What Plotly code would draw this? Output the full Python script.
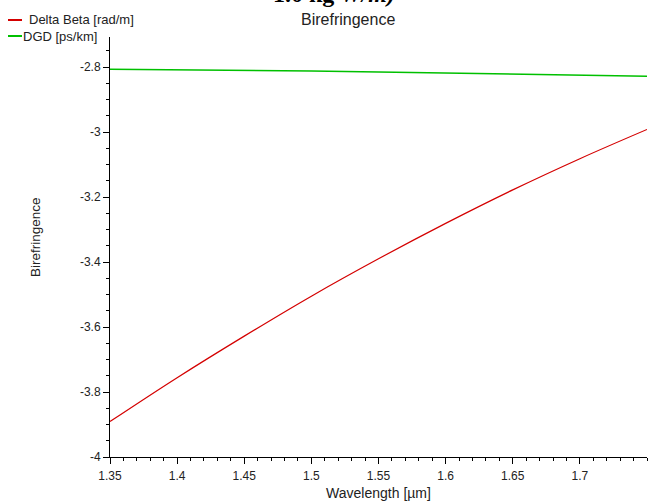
import plotly.graph_objects as go

wavelength = [1.35, 1.40, 1.45, 1.50, 1.55, 1.60, 1.65, 1.70, 1.75]
delta_beta = [-3.891, -3.756, -3.628, -3.505, -3.390, -3.281, -3.178, -3.082, -2.992]
dgd = [-2.807, -2.808, -2.810, -2.812, -2.815, -2.818, -2.821, -2.824, -2.828]

x_ticks = [1.35, 1.4, 1.45, 1.5, 1.55, 1.6, 1.65, 1.7]
x_ticklabels = ["1.35", "1.4", "1.45", "1.5", "1.55", "1.6", "1.65", "1.7"]
y_ticks = [-4, -3.8, -3.6, -3.4, -3.2, -3, -2.8]
y_ticklabels = ["-4", "-3.8", "-3.6", "-3.4", "-3.2", "-3", "-2.8"]

series_names = ["Delta Beta [rad/m]", "DGD [ps/km]"]
series_colors = ["#d40000", "#00c000"]

W, H = 654, 504
L, R, T, B = 110, 7, 37, 47
pw, ph = W - L - R, H - T - B


def px2paper(px, py):
    return (px - L) / pw, (H - B - py) / ph


FONT = "Liberation Sans, Arial, sans-serif"

fig = go.Figure()
fig.add_trace(go.Scatter(x=wavelength, y=delta_beta, mode="lines", name=series_names[0],
                         line=dict(color=series_colors[0], width=1.2, shape="spline", smoothing=1.0),
                         showlegend=False))
fig.add_trace(go.Scatter(x=wavelength, y=dgd, mode="lines", name=series_names[1],
                         line=dict(color=series_colors[1], width=1.5), showlegend=False))

axis_common = dict(showgrid=False, zeroline=False, showline=True, linecolor="#000",
                   linewidth=1, ticks="outside", ticklen=6, tickcolor="#000",
                   tickfont=dict(family=FONT, size=12, color="#222"))

fig.update_xaxes(range=[1.35, 1.75], tickmode="array", tickvals=x_ticks, ticktext=x_ticklabels,
                 minor=dict(tickmode="linear", tick0=1.35, dtick=0.01, ticks="outside",
                            ticklen=3, tickcolor="#000"),
                 ticklabelstandoff=2,
                 title=dict(text="Wavelength [µm]", font=dict(family=FONT, size=14, color="#222"),
                            standoff=5),
                 **axis_common)
fig.update_yaxes(range=[-4, -2.7075], tickmode="array", tickvals=y_ticks, ticktext=y_ticklabels,
                 minor=dict(tickmode="linear", tick0=-4, dtick=0.05, ticks="outside",
                            ticklen=3, tickcolor="#000"),
                 **axis_common)

annotations = []
shapes = []
# manual legend
for i, (name, color) in enumerate(zip(series_names, series_colors)):
    ly = 20 + 16 * i
    x0, y0 = px2paper(8, ly)
    x1, _ = px2paper(22, ly)
    shapes.append(dict(type="line", xref="paper", yref="paper", x0=x0, x1=x1, y0=y0, y1=y0,
                       line=dict(color=color, width=2)))
    tx, ty = px2paper(27 if i == 0 else 21, ly)
    annotations.append(dict(text=name, xref="paper", yref="paper", x=tx, y=ty,
                            xanchor="left", yanchor="middle", showarrow=False,
                            font=dict(family=FONT, size=13, color="#222")))

# title
tx, ty = px2paper(348, 20)
annotations.append(dict(text="Birefringence", xref="paper", yref="paper", x=tx, y=ty,
                        xanchor="center", yanchor="middle", showarrow=False,
                        font=dict(family=FONT, size=16, color="#222")))
# y axis title
tx, ty = px2paper(35, 237)
annotations.append(dict(text="Birefringence", xref="paper", yref="paper", x=tx, y=ty,
                        xanchor="center", yanchor="middle", textangle=-90, showarrow=False,
                        font=dict(family=FONT, size=13.5, color="#222")))
# cut-off caption at top
tx, ty = px2paper(334, 9)
annotations.append(dict(text="<b>1.0 kg <i>W/m)</i></b>", xref="paper", yref="paper", x=tx, y=ty,
                        xanchor="center", yanchor="bottom", showarrow=False,
                        font=dict(family="Liberation Serif, Times New Roman, serif", size=24,
                                  color="#000")))

fig.update_layout(width=W, height=H, margin=dict(l=L, r=R, t=T, b=B, pad=0),
                  paper_bgcolor="white", plot_bgcolor="white",
                  annotations=annotations, shapes=shapes, showlegend=False)

fig.write_html("out.html")
